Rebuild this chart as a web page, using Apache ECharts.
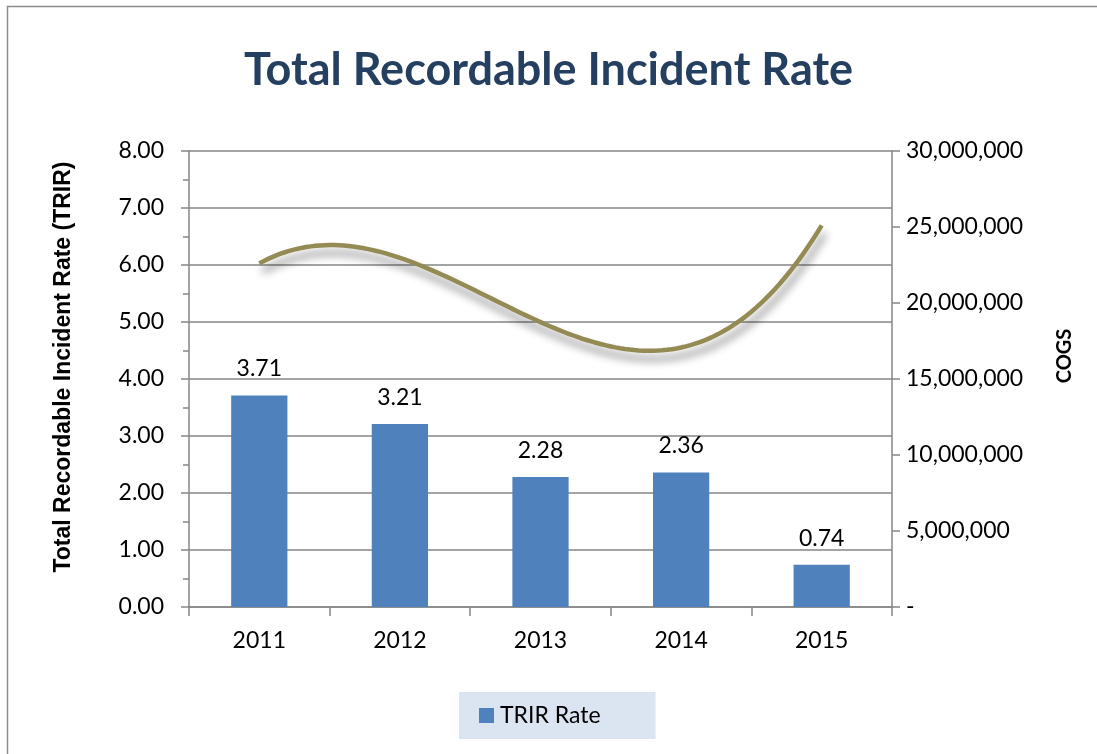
<!DOCTYPE html>
<html>
<head>
<meta charset="utf-8">
<script src="https://cdn.jsdelivr.net/npm/echarts@6/dist/echarts.min.js"></script>
<style>
html,body{margin:0;padding:0;background:#fff;}
#chart{width:1097px;height:754px;}
</style>
</head>
<body>
<div id="chart"></div>
<script>
const categories = ['2011', '2012', '2013', '2014', '2015'];
const trirRate = [3.71, 3.21, 2.28, 2.36, 0.74];
const cogs = [22600000, 23000000, 18700000, 17100000, 25100000];
const leftTicks = { min: 0, max: 8, interval: 1 };
const rightTicks = { min: 0, max: 30000000, interval: 5000000 };

// Polynomial (order 3) trendline through the COGS points, like the spreadsheet's trendline
function cubicFit(ys) {
  const n = 4;
  const A = [], b = [];
  for (let r = 0; r < n; r++) {
    A.push([]);
    for (let c = 0; c < n; c++) {
      let s = 0;
      ys.forEach((_, i) => { s += Math.pow(i, r + c); });
      A[r].push(s);
    }
    let s = 0;
    ys.forEach((y, i) => { s += y * Math.pow(i, r); });
    b.push(s);
  }
  for (let i = 0; i < n; i++) {
    let p = i;
    for (let k = i + 1; k < n; k++) if (Math.abs(A[k][i]) > Math.abs(A[p][i])) p = k;
    [A[i], A[p]] = [A[p], A[i]]; [b[i], b[p]] = [b[p], b[i]];
    for (let k = i + 1; k < n; k++) {
      const f = A[k][i] / A[i][i];
      for (let c = i; c < n; c++) A[k][c] -= f * A[i][c];
      b[k] -= f * b[i];
    }
  }
  const x = new Array(n).fill(0);
  for (let i = n - 1; i >= 0; i--) {
    let s = b[i];
    for (let c = i + 1; c < n; c++) s -= A[i][c] * x[c];
    x[i] = s / A[i][i];
  }
  return t => x[0] + x[1] * t + x[2] * t * t + x[3] * t * t * t;
}
const trend = cubicFit(cogs);

const chart = echarts.init(document.getElementById('chart'));
const labelFont = 'Lato, "Open Sans", sans-serif';
const axisGray = '#868686';

chart.setOption({
  backgroundColor: '#ffffff',
  animation: false,
  graphic: [{
    type: 'polyline',
    shape: { points: [[7.5, 760], [7.5, 6.5], [1100, 6.5]] },
    style: { fill: 'none', stroke: '#8c8c8c', lineWidth: 1.5 },
    silent: true
  }],
  title: {
    text: 'Total Recordable Incident Rate',
    left: 'center',
    top: 43,
    textStyle: { fontFamily: labelFont, fontWeight: 'bold', fontSize: 45, color: '#243F60' }
  },
  legend: {
    data: ['TRIR Rate'],
    left: 459,
    top: 692,
    backgroundColor: '#DBE5F1',
    padding: [12, 55, 12, 20],
    itemWidth: 15,
    itemHeight: 15,
    itemGap: 6,
    icon: 'rect',
    textStyle: { fontFamily: labelFont, fontSize: 23, color: '#000', padding: [0, 0, 0, 1] }
  },
  grid: { left: 189, right: 205, top: 151, bottom: 147, containLabel: false },
  xAxis: {
    type: 'category',
    data: categories,
    axisLine: { lineStyle: { color: axisGray, width: 1.5 } },
    axisTick: { show: true, length: 9, lineStyle: { color: axisGray, width: 1.5 } },
    axisLabel: { margin: 22, fontFamily: labelFont, fontSize: 23, color: '#000' }
  },
  yAxis: [{
    type: 'value',
    min: leftTicks.min, max: leftTicks.max, interval: leftTicks.interval,
    name: 'Total Recordable Incident Rate (TRIR)',
    nameLocation: 'middle',
    nameGap: 114,
    nameTextStyle: {
      fontFamily: '"Liberation Sans", Arial, sans-serif', fontWeight: 'bold', fontSize: 23, color: '#000',
      padding: [0, 0, 0, 24]
    },
    axisLine: { show: true, lineStyle: { color: axisGray, width: 1.5 } },
    axisTick: { show: true, inside: false, length: 8, lineStyle: { color: axisGray, width: 1.5 } },
    minorTick: { show: true, splitNumber: 2, length: 6, lineStyle: { color: axisGray, width: 1.5 } },
    splitLine: { show: true, lineStyle: { color: axisGray, width: 1.5 } },
    axisLabel: { margin: 25, fontFamily: labelFont, fontSize: 23, color: '#000', formatter: v => v.toFixed(2) }
  }, {
    type: 'value',
    position: 'right',
    min: rightTicks.min, max: rightTicks.max, interval: rightTicks.interval,
    name: 'COGS',
    nameLocation: 'middle',
    nameGap: 163,
    nameRotate: 90,
    nameTextStyle: {
      fontFamily: labelFont, fontWeight: 'bold', fontSize: 20, color: '#000',
      padding: [0, 0, 0, 46]
    },
    axisLine: { show: true, lineStyle: { color: axisGray, width: 1.5 } },
    axisTick: { show: true, length: 8, lineStyle: { color: axisGray, width: 1.5 } },
    splitLine: { show: false },
    axisLabel: {
      margin: 14, fontFamily: labelFont, fontSize: 23, color: '#000',
      formatter: v => v === 0 ? '-' : v.toLocaleString('en-US')
    }
  }],
  series: [{
    name: 'TRIR Rate',
    type: 'bar',
    data: trirRate,
    barWidth: '40%',
    itemStyle: { color: '#4F81BD' },
    label: {
      show: true, position: 'top', distance: 15,
      fontFamily: labelFont, fontSize: 23, color: '#000',
      formatter: p => p.value.toFixed(2)
    }
  }, {
    name: 'COGS',
    type: 'custom',
    yAxisIndex: 1,
    data: cogs.map((v, i) => [i, v]),
    encode: { x: 0, y: 1 },
    z: 3,
    renderItem: (params, api) => {
      if (params.dataIndex !== 0) return null;
      const last = cogs.length - 1;
      const xa = api.coord([0, 0])[0];
      const xb = api.coord([last, 0])[0];
      const pts = [];
      const steps = 120;
      for (let s = 0; s <= steps; s++) {
        const t = last * s / steps;
        const y = api.coord([0, trend(t)])[1];
        pts.push([xa + (xb - xa) * t / last, y]);
      }
      return {
        type: 'polyline',
        shape: { points: pts },
        style: {
          fill: null, stroke: '#948A54', lineWidth: 4.5,
          shadowColor: 'rgba(0,0,0,0.45)', shadowBlur: 9, shadowOffsetX: 3, shadowOffsetY: 8
        }
      };
    }
  }]
});
</script>
</body>
</html>
